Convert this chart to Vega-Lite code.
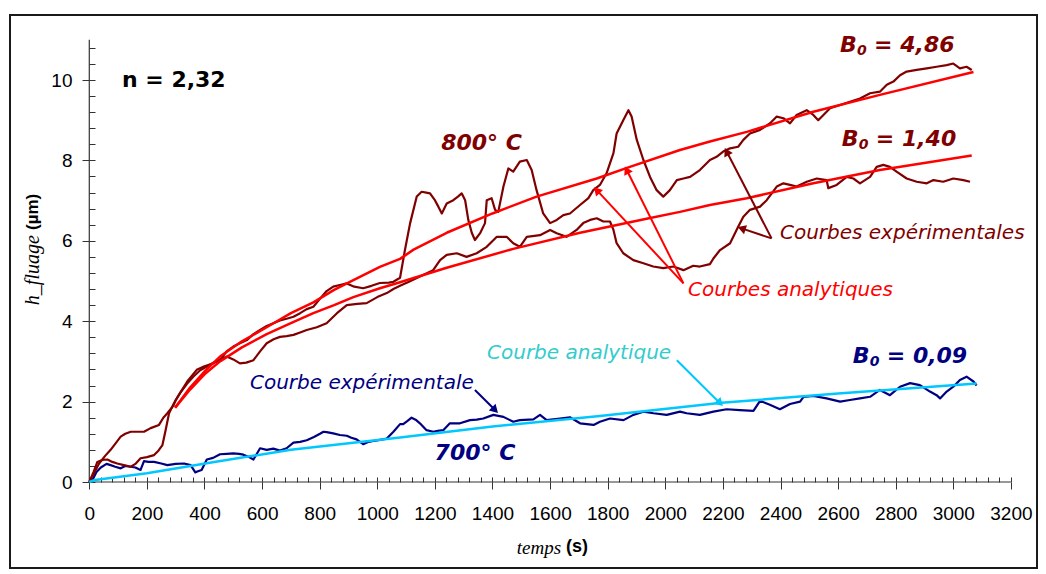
{
  "$schema": "https://vega.github.io/schema/vega-lite/v6.json",
  "width": 1027,
  "height": 553,
  "autosize": {"type": "none"},
  "padding": {"left": 10, "top": 15, "right": 9, "bottom": 6},
  "background": "white",
  "config": {"view": {"stroke": "#1a1a1a", "strokeWidth": 2}},
  "resolve": {"axis": {"x": "independent", "y": "independent"}},
  "datasets": {
    "curves": [
      {"s":"e7","t":0,"h":0},{"s":"e7","t":11,"h":0.05},{"s":"e7","t":25,"h":0.25},{"s":"e7","t":40,"h":0.36},{"s":"e7","t":60,"h":0.45},{"s":"e7","t":74,"h":0.42},{"s":"e7","t":90,"h":0.38},{"s":"e7","t":109,"h":0.34},{"s":"e7","t":125,"h":0.4},{"s":"e7","t":144,"h":0.38},{"s":"e7","t":160,"h":0.36},{"s":"e7","t":178,"h":0.3},{"s":"e7","t":190,"h":0.52},{"s":"e7","t":205,"h":0.5},{"s":"e7","t":225,"h":0.5},{"s":"e7","t":250,"h":0.46},{"s":"e7","t":271,"h":0.42},{"s":"e7","t":300,"h":0.45},{"s":"e7","t":329,"h":0.46},{"s":"e7","t":352,"h":0.42},{"s":"e7","t":368,"h":0.24},{"s":"e7","t":375,"h":0.26},{"s":"e7","t":390,"h":0.3},{"s":"e7","t":408,"h":0.56},{"s":"e7","t":430,"h":0.6},{"s":"e7","t":454,"h":0.69},{"s":"e7","t":477,"h":0.7},{"s":"e7","t":500,"h":0.71},{"s":"e7","t":520,"h":0.7},{"s":"e7","t":535,"h":0.68},{"s":"e7","t":555,"h":0.62},{"s":"e7","t":570,"h":0.56},{"s":"e7","t":593,"h":0.84},{"s":"e7","t":616,"h":0.8},{"s":"e7","t":639,"h":0.83},{"s":"e7","t":662,"h":0.78},{"s":"e7","t":685,"h":0.84},{"s":"e7","t":709,"h":0.98},{"s":"e7","t":732,"h":1.0},{"s":"e7","t":755,"h":1.04},{"s":"e7","t":780,"h":1.12},{"s":"e7","t":801,"h":1.2},{"s":"e7","t":813,"h":1.25},{"s":"e7","t":824,"h":1.24},{"s":"e7","t":847,"h":1.21},{"s":"e7","t":870,"h":1.17},{"s":"e7","t":894,"h":1.15},{"s":"e7","t":910,"h":1.1},{"s":"e7","t":928,"h":1.06},{"s":"e7","t":951,"h":0.94},{"s":"e7","t":970,"h":1.0},{"s":"e7","t":986,"h":1.02},{"s":"e7","t":1010,"h":1.05},{"s":"e7","t":1033,"h":1.08},{"s":"e7","t":1056,"h":1.25},{"s":"e7","t":1079,"h":1.44},{"s":"e7","t":1090,"h":1.44},{"s":"e7","t":1105,"h":1.52},{"s":"e7","t":1119,"h":1.6},{"s":"e7","t":1133,"h":1.55},{"s":"e7","t":1148,"h":1.46},{"s":"e7","t":1171,"h":1.29},{"s":"e7","t":1194,"h":1.25},{"s":"e7","t":1210,"h":1.27},{"s":"e7","t":1229,"h":1.29},{"s":"e7","t":1252,"h":1.46},{"s":"e7","t":1287,"h":1.46},{"s":"e7","t":1322,"h":1.54},{"s":"e7","t":1345,"h":1.55},{"s":"e7","t":1368,"h":1.58},{"s":"e7","t":1403,"h":1.67},{"s":"e7","t":1438,"h":1.62},{"s":"e7","t":1472,"h":1.5},{"s":"e7","t":1495,"h":1.54},{"s":"e7","t":1542,"h":1.56},{"s":"e7","t":1565,"h":1.67},{"s":"e7","t":1588,"h":1.54},{"s":"e7","t":1634,"h":1.58},{"s":"e7","t":1669,"h":1.61},{"s":"e7","t":1704,"h":1.46},{"s":"e7","t":1751,"h":1.42},{"s":"e7","t":1773,"h":1.5},{"s":"e7","t":1808,"h":1.58},{"s":"e7","t":1855,"h":1.54},{"s":"e7","t":1889,"h":1.67},{"s":"e7","t":1924,"h":1.75},{"s":"e7","t":1959,"h":1.71},{"s":"e7","t":2005,"h":1.67},{"s":"e7","t":2051,"h":1.75},{"s":"e7","t":2074,"h":1.71},{"s":"e7","t":2120,"h":1.67},{"s":"e7","t":2167,"h":1.75},{"s":"e7","t":2213,"h":1.81},{"s":"e7","t":2259,"h":1.79},{"s":"e7","t":2306,"h":1.77},{"s":"e7","t":2329,"h":2.02},{"s":"e7","t":2363,"h":1.92},{"s":"e7","t":2398,"h":1.81},{"s":"e7","t":2433,"h":1.94},{"s":"e7","t":2468,"h":2.0},{"s":"e7","t":2480,"h":2.12},{"s":"e7","t":2514,"h":2.14},{"s":"e7","t":2560,"h":2.08},{"s":"e7","t":2607,"h":2.0},{"s":"e7","t":2641,"h":2.04},{"s":"e7","t":2676,"h":2.08},{"s":"e7","t":2711,"h":2.12},{"s":"e7","t":2745,"h":2.29},{"s":"e7","t":2780,"h":2.16},{"s":"e7","t":2815,"h":2.37},{"s":"e7","t":2850,"h":2.46},{"s":"e7","t":2884,"h":2.41},{"s":"e7","t":2919,"h":2.25},{"s":"e7","t":2942,"h":2.16},{"s":"e7","t":2954,"h":2.08},{"s":"e7","t":2977,"h":2.25},{"s":"e7","t":3000,"h":2.37},{"s":"e7","t":3023,"h":2.54},{"s":"e7","t":3046,"h":2.62},{"s":"e7","t":3070,"h":2.5},{"s":"e7","t":3081,"h":2.4},
      {"s":"a7","t":0,"h":0},{"s":"a7","t":20,"h":0.05},{"s":"a7","t":200,"h":0.22},{"s":"a7","t":434,"h":0.5},{"s":"a7","t":700,"h":0.8},{"s":"a7","t":1079,"h":1.11},{"s":"a7","t":1400,"h":1.38},{"s":"a7","t":1773,"h":1.64},{"s":"a7","t":2196,"h":1.97},{"s":"a7","t":2600,"h":2.2},{"s":"a7","t":3081,"h":2.45},
      {"s":"e1","t":0,"h":0},{"s":"e1","t":15,"h":0.2},{"s":"e1","t":34,"h":0.46},{"s":"e1","t":55,"h":0.65},{"s":"e1","t":74,"h":0.8},{"s":"e1","t":90,"h":0.95},{"s":"e1","t":109,"h":1.13},{"s":"e1","t":125,"h":1.2},{"s":"e1","t":144,"h":1.25},{"s":"e1","t":170,"h":1.25},{"s":"e1","t":190,"h":1.25},{"s":"e1","t":213,"h":1.34},{"s":"e1","t":242,"h":1.42},{"s":"e1","t":257,"h":1.6},{"s":"e1","t":271,"h":1.71},{"s":"e1","t":292,"h":1.9},{"s":"e1","t":300,"h":2.04},{"s":"e1","t":315,"h":2.21},{"s":"e1","t":340,"h":2.45},{"s":"e1","t":361,"h":2.62},{"s":"e1","t":385,"h":2.78},{"s":"e1","t":408,"h":2.87},{"s":"e1","t":431,"h":2.97},{"s":"e1","t":454,"h":3.03},{"s":"e1","t":477,"h":3.25},{"s":"e1","t":500,"h":3.37},{"s":"e1","t":523,"h":3.45},{"s":"e1","t":547,"h":3.53},{"s":"e1","t":570,"h":3.68},{"s":"e1","t":593,"h":3.78},{"s":"e1","t":616,"h":3.88},{"s":"e1","t":639,"h":3.95},{"s":"e1","t":662,"h":4.02},{"s":"e1","t":685,"h":4.06},{"s":"e1","t":709,"h":4.11},{"s":"e1","t":732,"h":4.2},{"s":"e1","t":755,"h":4.3},{"s":"e1","t":778,"h":4.36},{"s":"e1","t":800,"h":4.55},{"s":"e1","t":824,"h":4.75},{"s":"e1","t":847,"h":4.86},{"s":"e1","t":870,"h":4.9},{"s":"e1","t":894,"h":4.94},{"s":"e1","t":920,"h":4.86},{"s":"e1","t":951,"h":4.82},{"s":"e1","t":980,"h":4.88},{"s":"e1","t":1009,"h":4.95},{"s":"e1","t":1040,"h":4.96},{"s":"e1","t":1056,"h":4.98},{"s":"e1","t":1079,"h":5.08},{"s":"e1","t":1096,"h":5.77},{"s":"e1","t":1114,"h":6.44},{"s":"e1","t":1137,"h":7.1},{"s":"e1","t":1154,"h":7.22},{"s":"e1","t":1170,"h":7.2},{"s":"e1","t":1183,"h":7.18},{"s":"e1","t":1200,"h":7.01},{"s":"e1","t":1212,"h":6.85},{"s":"e1","t":1224,"h":6.68},{"s":"e1","t":1241,"h":6.93},{"s":"e1","t":1264,"h":7.01},{"s":"e1","t":1280,"h":7.1},{"s":"e1","t":1293,"h":7.18},{"s":"e1","t":1305,"h":7.01},{"s":"e1","t":1316,"h":6.52},{"s":"e1","t":1328,"h":6.2},{"s":"e1","t":1339,"h":6.02},{"s":"e1","t":1357,"h":6.19},{"s":"e1","t":1374,"h":6.44},{"s":"e1","t":1380,"h":7.01},{"s":"e1","t":1397,"h":7.06},{"s":"e1","t":1409,"h":6.77},{"s":"e1","t":1420,"h":6.72},{"s":"e1","t":1438,"h":7.35},{"s":"e1","t":1455,"h":7.8},{"s":"e1","t":1472,"h":7.72},{"s":"e1","t":1495,"h":7.97},{"s":"e1","t":1519,"h":8.01},{"s":"e1","t":1536,"h":7.76},{"s":"e1","t":1553,"h":7.26},{"s":"e1","t":1576,"h":6.68},{"s":"e1","t":1600,"h":6.44},{"s":"e1","t":1623,"h":6.52},{"s":"e1","t":1646,"h":6.64},{"s":"e1","t":1669,"h":6.68},{"s":"e1","t":1704,"h":6.89},{"s":"e1","t":1733,"h":7.06},{"s":"e1","t":1750,"h":7.26},{"s":"e1","t":1773,"h":7.39},{"s":"e1","t":1796,"h":7.68},{"s":"e1","t":1820,"h":8.18},{"s":"e1","t":1831,"h":8.67},{"s":"e1","t":1854,"h":9.0},{"s":"e1","t":1872,"h":9.25},{"s":"e1","t":1883,"h":9.09},{"s":"e1","t":1901,"h":8.51},{"s":"e1","t":1924,"h":8.01},{"s":"e1","t":1947,"h":7.59},{"s":"e1","t":1970,"h":7.26},{"s":"e1","t":1993,"h":7.1},{"s":"e1","t":2016,"h":7.26},{"s":"e1","t":2040,"h":7.51},{"s":"e1","t":2063,"h":7.55},{"s":"e1","t":2086,"h":7.59},{"s":"e1","t":2120,"h":7.76},{"s":"e1","t":2155,"h":8.01},{"s":"e1","t":2178,"h":8.09},{"s":"e1","t":2201,"h":8.22},{"s":"e1","t":2225,"h":8.3},{"s":"e1","t":2253,"h":8.34},{"s":"e1","t":2271,"h":8.51},{"s":"e1","t":2294,"h":8.67},{"s":"e1","t":2329,"h":8.76},{"s":"e1","t":2363,"h":8.92},{"s":"e1","t":2387,"h":9.09},{"s":"e1","t":2410,"h":9.05},{"s":"e1","t":2433,"h":8.92},{"s":"e1","t":2456,"h":9.13},{"s":"e1","t":2491,"h":9.25},{"s":"e1","t":2514,"h":9.13},{"s":"e1","t":2531,"h":9.0},{"s":"e1","t":2549,"h":9.13},{"s":"e1","t":2572,"h":9.3},{"s":"e1","t":2607,"h":9.38},{"s":"e1","t":2641,"h":9.46},{"s":"e1","t":2676,"h":9.54},{"s":"e1","t":2711,"h":9.67},{"s":"e1","t":2745,"h":9.71},{"s":"e1","t":2769,"h":9.88},{"s":"e1","t":2792,"h":9.96},{"s":"e1","t":2815,"h":10.12},{"s":"e1","t":2838,"h":10.21},{"s":"e1","t":2873,"h":10.25},{"s":"e1","t":2908,"h":10.29},{"s":"e1","t":2942,"h":10.33},{"s":"e1","t":2977,"h":10.37},{"s":"e1","t":3000,"h":10.41},{"s":"e1","t":3023,"h":10.29},{"s":"e1","t":3046,"h":10.33},{"s":"e1","t":3064,"h":10.25},
      {"s":"e2","t":0,"h":0},{"s":"e2","t":15,"h":0.25},{"s":"e2","t":28,"h":0.5},{"s":"e2","t":45,"h":0.55},{"s":"e2","t":63,"h":0.56},{"s":"e2","t":80,"h":0.5},{"s":"e2","t":97,"h":0.46},{"s":"e2","t":120,"h":0.42},{"s":"e2","t":144,"h":0.38},{"s":"e2","t":160,"h":0.45},{"s":"e2","t":178,"h":0.59},{"s":"e2","t":200,"h":0.62},{"s":"e2","t":225,"h":0.67},{"s":"e2","t":240,"h":0.78},{"s":"e2","t":254,"h":0.92},{"s":"e2","t":265,"h":1.29},{"s":"e2","t":277,"h":1.71},{"s":"e2","t":294,"h":1.96},{"s":"e2","t":315,"h":2.21},{"s":"e2","t":340,"h":2.5},{"s":"e2","t":373,"h":2.79},{"s":"e2","t":400,"h":2.88},{"s":"e2","t":431,"h":2.95},{"s":"e2","t":454,"h":3.05},{"s":"e2","t":477,"h":3.12},{"s":"e2","t":500,"h":3.05},{"s":"e2","t":523,"h":2.95},{"s":"e2","t":545,"h":2.97},{"s":"e2","t":570,"h":3.03},{"s":"e2","t":593,"h":3.25},{"s":"e2","t":616,"h":3.45},{"s":"e2","t":640,"h":3.55},{"s":"e2","t":662,"h":3.61},{"s":"e2","t":685,"h":3.63},{"s":"e2","t":709,"h":3.66},{"s":"e2","t":732,"h":3.72},{"s":"e2","t":755,"h":3.78},{"s":"e2","t":790,"h":3.85},{"s":"e2","t":824,"h":3.95},{"s":"e2","t":860,"h":4.2},{"s":"e2","t":894,"h":4.4},{"s":"e2","t":930,"h":4.43},{"s":"e2","t":963,"h":4.45},{"s":"e2","t":1000,"h":4.6},{"s":"e2","t":1033,"h":4.7},{"s":"e2","t":1056,"h":4.8},{"s":"e2","t":1079,"h":4.88},{"s":"e2","t":1110,"h":4.98},{"s":"e2","t":1148,"h":5.11},{"s":"e2","t":1194,"h":5.27},{"s":"e2","t":1218,"h":5.52},{"s":"e2","t":1241,"h":5.65},{"s":"e2","t":1276,"h":5.69},{"s":"e2","t":1310,"h":5.6},{"s":"e2","t":1345,"h":5.69},{"s":"e2","t":1380,"h":5.85},{"s":"e2","t":1415,"h":6.1},{"s":"e2","t":1449,"h":6.1},{"s":"e2","t":1472,"h":5.94},{"s":"e2","t":1495,"h":5.85},{"s":"e2","t":1519,"h":6.1},{"s":"e2","t":1565,"h":6.14},{"s":"e2","t":1600,"h":6.27},{"s":"e2","t":1623,"h":6.19},{"s":"e2","t":1657,"h":6.1},{"s":"e2","t":1692,"h":6.27},{"s":"e2","t":1715,"h":6.44},{"s":"e2","t":1739,"h":6.52},{"s":"e2","t":1762,"h":6.56},{"s":"e2","t":1785,"h":6.48},{"s":"e2","t":1808,"h":6.48},{"s":"e2","t":1820,"h":6.27},{"s":"e2","t":1831,"h":5.94},{"s":"e2","t":1854,"h":5.69},{"s":"e2","t":1889,"h":5.52},{"s":"e2","t":1924,"h":5.44},{"s":"e2","t":1958,"h":5.36},{"s":"e2","t":1993,"h":5.32},{"s":"e2","t":2028,"h":5.36},{"s":"e2","t":2063,"h":5.27},{"s":"e2","t":2097,"h":5.38},{"s":"e2","t":2120,"h":5.36},{"s":"e2","t":2155,"h":5.42},{"s":"e2","t":2167,"h":5.56},{"s":"e2","t":2190,"h":5.77},{"s":"e2","t":2225,"h":5.94},{"s":"e2","t":2253,"h":6.35},{"s":"e2","t":2271,"h":6.6},{"s":"e2","t":2294,"h":6.77},{"s":"e2","t":2329,"h":6.85},{"s":"e2","t":2352,"h":7.01},{"s":"e2","t":2387,"h":7.35},{"s":"e2","t":2410,"h":7.43},{"s":"e2","t":2433,"h":7.39},{"s":"e2","t":2456,"h":7.35},{"s":"e2","t":2491,"h":7.47},{"s":"e2","t":2526,"h":7.55},{"s":"e2","t":2560,"h":7.51},{"s":"e2","t":2566,"h":7.31},{"s":"e2","t":2595,"h":7.39},{"s":"e2","t":2630,"h":7.59},{"s":"e2","t":2653,"h":7.55},{"s":"e2","t":2676,"h":7.43},{"s":"e2","t":2711,"h":7.59},{"s":"e2","t":2734,"h":7.84},{"s":"e2","t":2757,"h":7.89},{"s":"e2","t":2780,"h":7.84},{"s":"e2","t":2803,"h":7.72},{"s":"e2","t":2838,"h":7.55},{"s":"e2","t":2873,"h":7.47},{"s":"e2","t":2908,"h":7.43},{"s":"e2","t":2931,"h":7.51},{"s":"e2","t":2965,"h":7.47},{"s":"e2","t":3000,"h":7.55},{"s":"e2","t":3035,"h":7.51},{"s":"e2","t":3058,"h":7.47},
      {"s":"a1","t":298,"h":1.85},{"s":"a1","t":350,"h":2.35},{"s":"a1","t":400,"h":2.75},{"s":"a1","t":454,"h":3.12},{"s":"a1","t":530,"h":3.5},{"s":"a1","t":616,"h":3.85},{"s":"a1","t":700,"h":4.2},{"s":"a1","t":778,"h":4.47},{"s":"a1","t":850,"h":4.78},{"s":"a1","t":917,"h":5.02},{"s":"a1","t":1009,"h":5.35},{"s":"a1","t":1079,"h":5.55},{"s":"a1","t":1126,"h":5.78},{"s":"a1","t":1241,"h":6.2},{"s":"a1","t":1400,"h":6.68},{"s":"a1","t":1553,"h":7.1},{"s":"a1","t":1762,"h":7.55},{"s":"a1","t":1877,"h":7.84},{"s":"a1","t":2051,"h":8.26},{"s":"a1","t":2155,"h":8.47},{"s":"a1","t":2283,"h":8.71},{"s":"a1","t":2514,"h":9.21},{"s":"a1","t":2745,"h":9.63},{"s":"a1","t":3070,"h":10.2},
      {"s":"a2","t":298,"h":1.85},{"s":"a2","t":350,"h":2.3},{"s":"a2","t":400,"h":2.68},{"s":"a2","t":454,"h":3.0},{"s":"a2","t":530,"h":3.35},{"s":"a2","t":616,"h":3.68},{"s":"a2","t":700,"h":3.95},{"s":"a2","t":778,"h":4.2},{"s":"a2","t":850,"h":4.4},{"s":"a2","t":917,"h":4.6},{"s":"a2","t":1009,"h":4.82},{"s":"a2","t":1079,"h":4.97},{"s":"a2","t":1241,"h":5.33},{"s":"a2","t":1472,"h":5.8},{"s":"a2","t":1704,"h":6.2},{"s":"a2","t":1935,"h":6.55},{"s":"a2","t":2051,"h":6.72},{"s":"a2","t":2155,"h":6.89},{"s":"a2","t":2283,"h":7.06},{"s":"a2","t":2514,"h":7.43},{"s":"a2","t":2745,"h":7.76},{"s":"a2","t":3064,"h":8.12}
    ],
    "arrows": [
      {"s":"e1","t":2369,"h":6.06,"t2":2213,"h2":8.22,"ang":332.5},
      {"s":"e1","t":2369,"h":6.06,"t2":2265,"h2":6.31,"ang":288.4},
      {"s":"a1","t":2063,"h":4.94,"t2":1762,"h2":7.26,"ang":317},
      {"s":"a1","t":2063,"h":4.94,"t2":1866,"h2":7.76,"ang":333.5},
      {"s":"e7","t":1339,"h":2.29,"t2":1409,"h2":1.79,"ang":135},
      {"s":"a7","t":2040,"h":3.03,"t2":2190,"h2":1.96,"ang":135}
    ],
    "b0maroon": [
      {"t": 2607, "h": 10.87, "val": "= 4,86"},
      {"t": 2613, "h": 8.53, "val": "= 1,40"}
    ],
    "b0navy": [
      {"t": 2651, "h": 3.13, "val": "= 0,09"}
    ]
  },
  "encoding": {
    "x": {"field": "t", "type": "quantitative", "axis": null,
      "scale": {"domain": [-275.3, 3290.6], "nice": false, "zero": false}},
    "y": {"field": "h", "type": "quantitative", "axis": null,
      "scale": {"domain": [-2.139, 11.617], "nice": false, "zero": false}}
  },
  "layer": [
    {
      "data": {"values": [{"t": 0, "t2": 3200, "h": 0}]},
      "mark": {"type": "rule", "color": "#333", "strokeWidth": 1.2},
      "encoding": {
        "x": {"field": "t", "type": "quantitative",
          "axis": {"orient": "bottom", "title": null, "grid": false, "domain": false, "offset": -86,
            "values": [0,200,400,600,800,1000,1200,1400,1600,1800,2000,2200,2400,2600,2800,3000,3200],
            "format": "d", "tickSize": 7, "tickColor": "#333", "tickWidth": 1,
            "labelFont": "Liberation Sans", "labelFontSize": 19, "labelColor": "#000",
            "labelPadding": 15, "labelOverlap": false, "labelFlush": false}},
        "x2": {"field": "t2"}
      }
    },
    {
      "data": {"values": [{"t": 0, "h": 0, "h2": 11}]},
      "mark": {"type": "rule", "color": "#333", "strokeWidth": 1.2},
      "encoding": {
        "y": {"field": "h", "type": "quantitative",
          "axis": {"orient": "left", "title": null, "grid": false, "domain": false, "offset": -79,
            "values": [0,2,4,6,8,10],
            "format": "d", "tickSize": 7, "tickColor": "#333", "tickWidth": 1,
            "labelFont": "Liberation Sans", "labelFontSize": 19, "labelColor": "#000",
            "labelPadding": 10, "labelOverlap": false, "labelFlush": false}},
        "y2": {"field": "h2"}
      }
    },
    {
      "data": {"name": "curves"},
      "transform": [{"filter": {"field": "s", "oneOf": ["e7", "e1", "e2"]}}],
      "mark": {"type": "line", "strokeWidth": 2.2, "strokeJoin": "round"},
      "encoding": {
        "x": {"field": "t", "type": "quantitative",
          "axis": {"orient": "bottom", "title": null, "grid": false, "domain": false, "offset": -86,
            "values": [0,40,80,120,160,200,240,280,320,360,400,440,480,520,560,600,640,680,720,760,800,840,880,920,960,1000,1040,1080,1120,1160,1200,1240,1280,1320,1360,1400,1440,1480,1520,1560,1600,1640,1680,1720,1760,1800,1840,1880,1920,1960,2000,2040,2080,2120,2160,2200,2240,2280,2320,2360,2400,2440,2480,2520,2560,2600,2640,2680,2720,2760,2800,2840,2880,2920,2960,3000,3040,3080,3120,3160,3200],
            "labels": false, "tickSize": -5, "tickColor": "#333", "tickWidth": 1}},
        "y": {"field": "h", "type": "quantitative",
          "axis": {"orient": "left", "title": null, "grid": false, "domain": false, "offset": -79,
            "values": [0,0.4,0.8,1.2,1.6,2,2.4,2.8,3.2,3.6,4,4.4,4.8,5.2,5.6,6,6.4,6.8,7.2,7.6,8,8.4,8.8,9.2,9.6,10,10.4,10.8],
            "labels": false, "tickSize": -6, "tickColor": "#333", "tickWidth": 1}},
        "color": {"field": "s", "type": "nominal", "legend": null,
          "scale": {"domain": ["e1","e2","e7","a1","a2","a7"], "range": ["#800000","#800000","#000080","#FF0000","#FF0000","#00C8FF"]}}
      }
    },
    {
      "data": {"name": "curves"},
      "transform": [{"filter": {"field": "s", "oneOf": ["a7", "a1", "a2"]}}],
      "mark": {"type": "line", "strokeWidth": 2.5, "strokeJoin": "round"},
      "encoding": {"color": {"field": "s", "type": "nominal", "legend": null}}
    },
    {
      "data": {"name": "arrows"},
      "mark": {"type": "rule", "strokeWidth": 2},
      "encoding": {"x2": {"field": "t2"}, "y2": {"field": "h2"}, "color": {"field": "s", "type": "nominal", "legend": null}}
    },
    {
      "data": {"name": "arrows"},
      "mark": {"type": "point", "shape": "triangle-up", "filled": true, "opacity": 1, "size": 90},
      "encoding": {
        "x": {"field": "t2", "type": "quantitative", "axis": null},
        "y": {"field": "h2", "type": "quantitative", "axis": null},
        "angle": {"field": "ang", "type": "quantitative", "scale": null},
        "color": {"field": "s", "type": "nominal", "legend": null}
      }
    },
    {
      "data": {"values": [{"txt": "800° C", "t": 1362, "h": 8.43}]},
      "mark": {"type": "text", "font": "DejaVu Sans", "fontSize": 22, "fontWeight": "bold", "fontStyle": "italic", "color": "#800000", "align": "center", "baseline": "middle"},
      "encoding": {"text": {"field": "txt"}}
    },
    {
      "data": {"name": "b0maroon"},
      "mark": {"type": "text", "text": "B", "font": "DejaVu Sans", "fontSize": 22, "fontWeight": "bold", "fontStyle": "italic", "color": "#800000", "align": "left", "baseline": "middle"}
    },
    {
      "data": {"name": "b0maroon"},
      "mark": {"type": "text", "text": "0", "dx": 17, "dy": 6, "font": "DejaVu Sans", "fontSize": 14, "fontWeight": "bold", "fontStyle": "italic", "color": "#800000", "align": "left", "baseline": "middle"}
    },
    {
      "data": {"name": "b0maroon"},
      "mark": {"type": "text", "dx": 34, "font": "DejaVu Sans", "fontSize": 22, "fontWeight": "bold", "fontStyle": "italic", "color": "#800000", "align": "left", "baseline": "middle"},
      "encoding": {"text": {"field": "val"}}
    },
    {
      "data": {"values": [{"txt": "700° C", "t": 1339, "h": 0.72}]},
      "mark": {"type": "text", "font": "DejaVu Sans", "fontSize": 22, "fontWeight": "bold", "fontStyle": "italic", "color": "#000080", "align": "center", "baseline": "middle"},
      "encoding": {"text": {"field": "txt"}}
    },
    {
      "data": {"name": "b0navy"},
      "mark": {"type": "text", "text": "B", "font": "DejaVu Sans", "fontSize": 22, "fontWeight": "bold", "fontStyle": "italic", "color": "#000080", "align": "left", "baseline": "middle"}
    },
    {
      "data": {"name": "b0navy"},
      "mark": {"type": "text", "text": "0", "dx": 17, "dy": 6, "font": "DejaVu Sans", "fontSize": 14, "fontWeight": "bold", "fontStyle": "italic", "color": "#000080", "align": "left", "baseline": "middle"}
    },
    {
      "data": {"name": "b0navy"},
      "mark": {"type": "text", "dx": 34, "font": "DejaVu Sans", "fontSize": 22, "fontWeight": "bold", "fontStyle": "italic", "color": "#000080", "align": "left", "baseline": "middle"},
      "encoding": {"text": {"field": "val"}}
    },
    {
      "data": {"values": [{"txt": "Courbes expérimentales", "t": 2398, "h": 6.19}]},
      "mark": {"type": "text", "font": "DejaVu Sans", "fontSize": 20, "fontStyle": "italic", "color": "#800000", "align": "left", "baseline": "middle"},
      "encoding": {"text": {"field": "txt"}}
    },
    {
      "data": {"values": [{"txt": "Courbes analytiques", "t": 2079, "h": 4.78}]},
      "mark": {"type": "text", "font": "DejaVu Sans", "fontSize": 20, "fontStyle": "italic", "color": "#FF0000", "align": "left", "baseline": "middle"},
      "encoding": {"text": {"field": "txt"}}
    },
    {
      "data": {"values": [{"txt": "Courbe analytique", "t": 1381, "h": 3.21}]},
      "mark": {"type": "text", "font": "DejaVu Sans", "fontSize": 20, "fontStyle": "italic", "color": "#33CCCC", "align": "left", "baseline": "middle"},
      "encoding": {"text": {"field": "txt"}}
    },
    {
      "data": {"values": [{"txt": "Courbe expérimentale", "t": 558, "h": 2.46}]},
      "mark": {"type": "text", "font": "DejaVu Sans", "fontSize": 20, "fontStyle": "italic", "color": "#000080", "align": "left", "baseline": "middle"},
      "encoding": {"text": {"field": "txt"}}
    },
    {
      "data": {"values": [{"txt": "n = 2,32", "t": 113.5, "h": 10.0}]},
      "mark": {"type": "text", "font": "DejaVu Sans", "fontSize": 22, "fontWeight": "bold", "color": "#000", "align": "left", "baseline": "middle"},
      "encoding": {"text": {"field": "txt"}}
    },
    {
      "data": {"values": [{"txt": "temps", "t": 1561, "h": -1.64}]},
      "mark": {"type": "text", "font": "Liberation Serif", "fontSize": 19, "fontStyle": "italic", "color": "#000", "align": "center", "baseline": "middle"},
      "encoding": {"text": {"field": "txt"}}
    },
    {
      "data": {"values": [{"txt": "(s)", "t": 1693, "h": -1.62}]},
      "mark": {"type": "text", "font": "Liberation Sans", "fontSize": 18, "fontWeight": "bold", "color": "#000", "align": "center", "baseline": "middle"},
      "encoding": {"text": {"field": "txt"}}
    },
    {
      "data": {"values": [{"txt": "h_fluage", "t": -195, "h": 5.27}]},
      "mark": {"type": "text", "font": "Liberation Serif", "fontSize": 20, "fontStyle": "italic", "color": "#000", "align": "center", "baseline": "middle", "angle": 270},
      "encoding": {"text": {"field": "txt"}}
    },
    {
      "data": {"values": [{"txt": "(µm)", "t": -195, "h": 6.72}]},
      "mark": {"type": "text", "font": "Liberation Sans", "fontSize": 17, "fontWeight": "bold", "color": "#000", "align": "center", "baseline": "middle", "angle": 270},
      "encoding": {"text": {"field": "txt"}}
    }
  ]
}
